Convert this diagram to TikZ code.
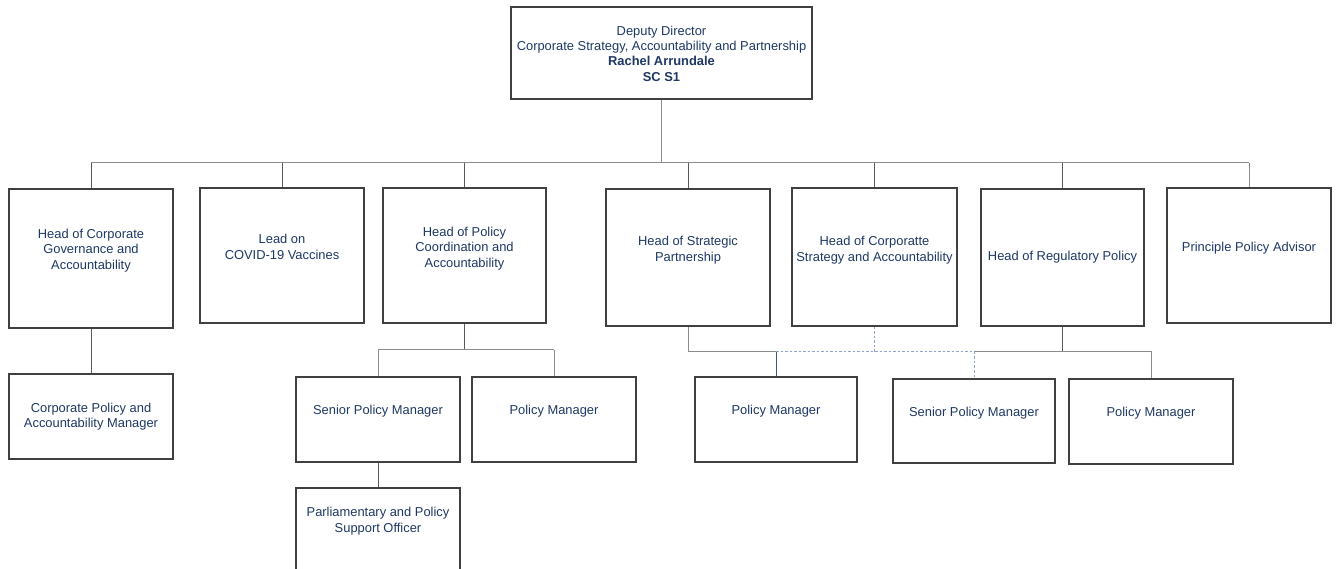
\documentclass[tikz,border=0pt]{standalone}
\usepackage{fontspec}
\setmainfont{Liberation Sans}
\definecolor{navy}{HTML}{1F3864}
\definecolor{boxline}{HTML}{404040}
\definecolor{bus}{HTML}{8C8C8C}
\definecolor{drop}{HTML}{5A5A5A}
\definecolor{dotted}{HTML}{8FA3CF}
\definecolor{navyline}{HTML}{44546A}
\begin{document}
\begin{tikzpicture}[x=1pt,y=-1pt,
  box/.style={draw=boxline,line width=1.3pt,fill=white,inner sep=0pt},
  lbl/.style={text=navy,align=center,font=\fontsize{12.9}{15.4}\selectfont,inner sep=0pt},
  link/.style={draw=bus,line width=1pt},
  droplink/.style={draw=drop,line width=1pt},
  dashlink/.style={draw=dotted,line width=1pt,dash pattern=on 2.5pt off 2pt}]
\useasboundingbox (0,0) rectangle (1339,569);
\clip (0,0) rectangle (1339,569);

% bus levels
\coordinate (busA) at (0,163);
\coordinate (busB) at (0,350);
\coordinate (busC) at (0,352);

% top level
\node[box,minimum width=301,minimum height=92] (dep) at (661.5,53) {};
\node[lbl] (depT) at (661.5,53.5) {Deputy Director\\Corporate Strategy, Accountability and Partnership\\\textbf{Rachel Arrundale}\\\textbf{SC S1}};

% second level
\node[box,minimum width=164,minimum height=139] (hcg) at (91,258.5) {};
\node[box,minimum width=164,minimum height=135] (cov) at (282,255.5) {};
\node[box,minimum width=163,minimum height=135] (hpc) at (464.5,255.5) {};
\node[box,minimum width=164,minimum height=137] (hsp) at (688,257.5) {};
\node[box,minimum width=165,minimum height=138] (hcs) at (874.5,257) {};
\node[box,minimum width=163,minimum height=137] (hrp) at (1062.5,257.5) {};
\node[box,minimum width=164,minimum height=135] (ppa) at (1249,255.5) {};

\node[lbl] (hcgT) at (91,250.5) {Head of Corporate\\Governance and\\Accountability};
\node[lbl] (covT) at (282,247) {Lead on\\COVID-19 Vaccines};
\node[lbl] (hpcT) at (464.5,248.5) {Head of Policy\\Coordination and\\Accountability};
\node[lbl] (hspT) at (688,250) {Head of Strategic\\Partnership};
\node[lbl] (hcsT) at (874.5,250) {Head of Corporatte\\Strategy and Accountability};
\node[lbl] (hrpT) at (1062.5,257.5) {Head of Regulatory Policy};
\node[lbl] (ppaT) at (1249,248.5) {Principle Policy Advisor};

% third level
\node[box,minimum width=164,minimum height=85] (cpm) at (91,416.5) {};
\node[box,minimum width=164,minimum height=85] (spmA) at (378,419.5) {};
\node[box,minimum width=164,minimum height=85] (pmA) at (554,419.5) {};
\node[box,minimum width=162,minimum height=85] (pmB) at (776,419.5) {};
\node[box,minimum width=162,minimum height=84] (spmB) at (974,421) {};
\node[box,minimum width=164,minimum height=85] (pmC) at (1151,421.5) {};

\node[lbl] (cpmT) at (91,416.5) {Corporate Policy and\\Accountability Manager};
\node[lbl] (spmAT) at (378,411.5) {Senior Policy Manager};
\node[lbl] (pmAT) at (554,411.5) {Policy Manager};
\node[lbl] (pmBT) at (776,411.5) {Policy Manager};
\node[lbl] (spmBT) at (974,413.5) {Senior Policy Manager};
\node[lbl] (pmCT) at (1151,413.5) {Policy Manager};

% fourth level
\node[box,minimum width=164,minimum height=100] (pps) at (378,538) {};
\node[lbl] (ppsT) at (378,521) {Parliamentary and Policy\\Support Officer};

% deputy director to second level
\draw[link] (dep.south) -- (dep.south |- busA);
\draw[link] (hcg.north |- busA) -- (ppa.north |- busA);
\foreach \n in {hcg,cov,hpc,hsp,hcs,hrp}
  \draw[droplink] (\n.north |- busA) -- (\n.north);
\draw[link] (ppa.north |- busA) -- (ppa.north);

% corporate governance branch
\draw[droplink] (hcg.south) -- (cpm.north);

% policy coordination branch
\draw[droplink] (hpc.south) -- (hpc.south |- busB);
\draw[link] (spmA.north |- busB) -- (pmA.north |- busB);
\draw[link] (spmA.north |- busB) -- (spmA.north);
\draw[link] (pmA.north |- busB) -- (pmA.north);
\draw[droplink] (spmA.south) -- (pps.north);

% strategic partnership, corporate strategy and regulatory branches
\draw[link] (hsp.south) -- (hsp.south |- busC) -- (pmB.north |- busC);
\draw[draw=navyline,line width=1pt] (pmB.north |- busC) -- (pmB.north);
\draw[dashlink] (pmB.north |- busC) -- (spmB.north |- busC);
\draw[dashlink] (hcs.south) -- (hcs.south |- busC);
\draw[dashlink] (spmB.north |- busC) -- (spmB.north);
\draw[droplink] (hrp.south) -- (hrp.south |- busC);
\draw[link] (spmB.north |- busC) -- (pmC.north |- busC) -- (pmC.north);
\end{tikzpicture}
\end{document}
